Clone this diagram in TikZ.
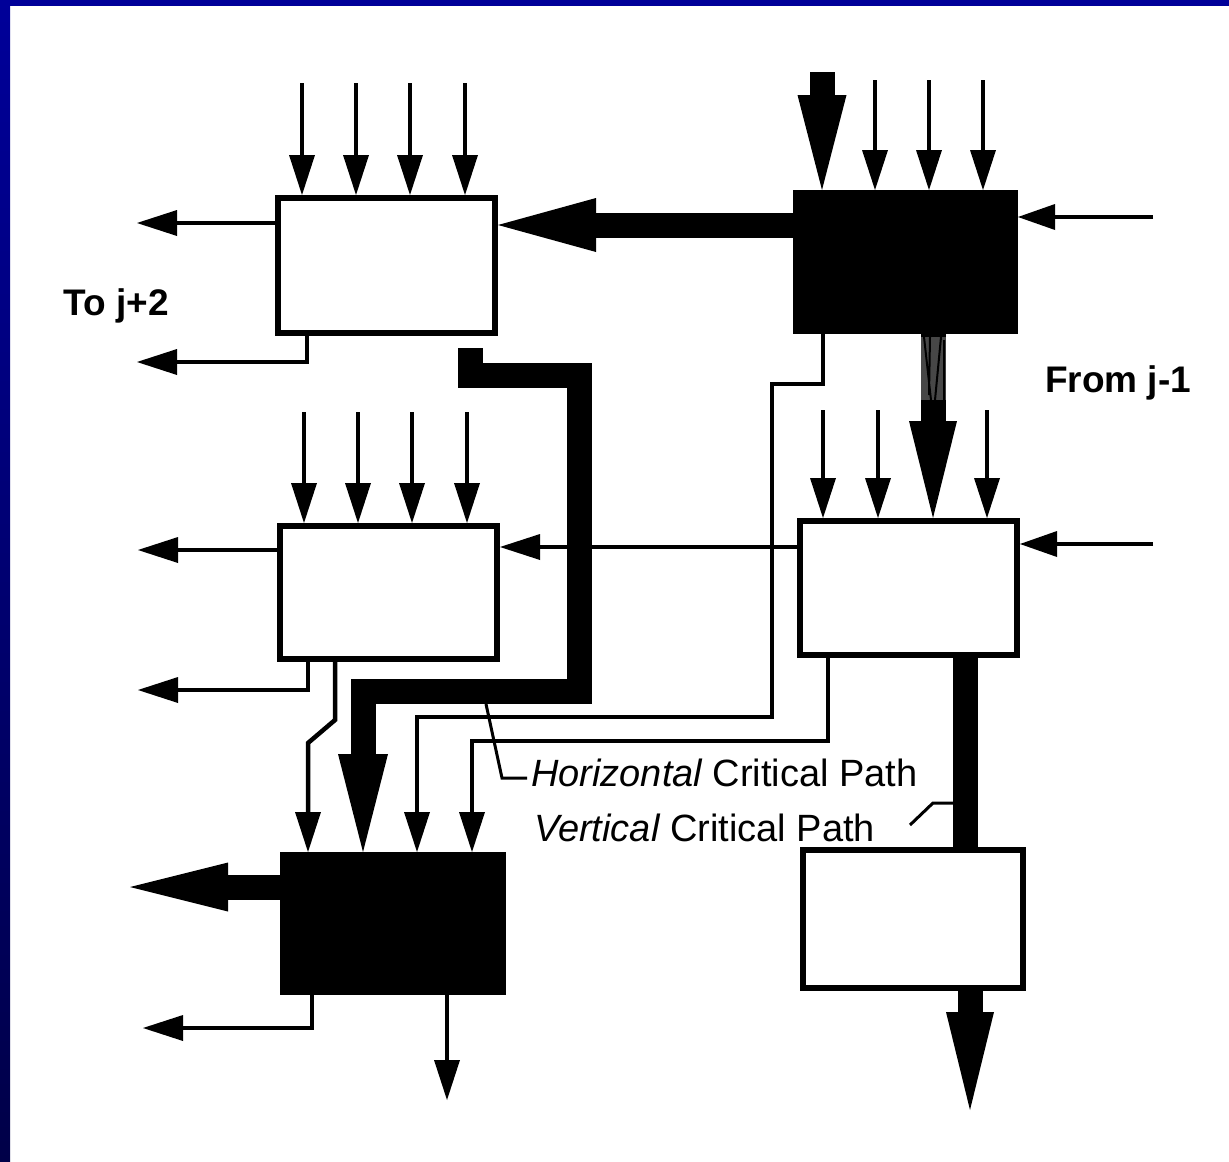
\documentclass[tikz,border=0pt]{standalone}
\usepackage{fontspec}
\setmainfont{Liberation Sans}
\usetikzlibrary{arrows.meta}
\definecolor{bordtop}{RGB}{0,0,153}
\definecolor{bordbot}{RGB}{0,0,72}
\begin{document}
\begin{tikzpicture}[x=1pt,y=-1pt,
  box/.style={draw=black,line width=6pt,inner sep=0pt,outer sep=3pt,fill=white},
  dark/.style={box,fill=black},
  tarr/.style={line width=4.5pt,-{Triangle[length=40pt,width=26pt,line width=0pt]}},
  bus/.style={line width=25pt},
  Tarr/.style={line width=25pt,-{Triangle[length=98pt,width=50pt,line width=0pt]}},
  lbl/.style={font=\bfseries\fontsize{37}{40}\selectfont},
  captxt/.style={anchor=base west,font=\fontsize{38}{42}\selectfont,inner sep=0pt}
]
\useasboundingbox (0,0) rectangle (1229,1162);
\fill[white] (0,0) rectangle (1229,1162);
\fill[bordtop] (0,0) rectangle (1229,6);
\shade[top color=bordtop,bottom color=bordbot] (0,0) rectangle (10,1162);

% blocks
\node[box,minimum width=217pt,minimum height=135pt] (A) at (386.5,265.5) {};
\node[dark,minimum width=219pt,minimum height=138pt] (B) at (905.5,262) {};
\node[box,minimum width=217pt,minimum height=133pt] (C) at (388.5,592.5) {};
\node[box,minimum width=217pt,minimum height=134pt] (D) at (908.5,588) {};
\node[dark,minimum width=220pt,minimum height=137pt] (E) at (393,923.5) {};
\node[box,minimum width=220pt,minimum height=138pt] (F) at (913,919) {};

% labels
\node[lbl] (toj) at (116,306) {To j+2};
\node[lbl] (fromj) at (1118,383) {From j-1};
\node[captxt] (hcp) at (531,786) {\itshape Horizontal\upshape{} Critical Path};
\node[captxt] (vcp) at (534,841) {\itshape Vertical\upshape{} Critical Path};

% inputs into A
\foreach \x [count=\i] in {302,356,410,465}{
  \coordinate (ai\i) at (\x,83);
  \draw[tarr] (ai\i) -- (\x,0 |- A.north);
}
% inputs into B
\coordinate (bt) at (822,72);
\draw[Tarr,-{Triangle[length=95pt,width=49pt,line width=0pt]}] (bt) -- (822,0 |- B.north);
\foreach \x [count=\i] in {875,929,983}{
  \coordinate (bi\i) at (\x,80);
  \draw[tarr] (bi\i) -- (\x,0 |- B.north);
}
\coordinate (br) at (1153,217);
\draw[tarr,-{Triangle[length=37pt,width=26pt,line width=0pt]}] (br) -- (0,217 -| B.east);

% B -> A thick
\draw[Tarr,-{Triangle[length=98pt,width=54pt,line width=0pt]}] (0,225 -| B.west) -- (0,225 -| A.east);

% A outputs
\coordinate (ao1) at (137,223);
\draw[tarr] (0,223 -| A.west) -- (ao1);
\coordinate (ao2) at (137,362);
\draw[tarr] (307,0 |- A.south) -- (307,362) -- (ao2);

% horizontal critical path (thick)
\coordinate (hs) at (470,348);
\draw[Tarr] (hs) -- (470,375) -- (579,375) -- (579,691) -- (363,691) -- (363,0 |- E.north);

% B bottom thin to E
\draw[tarr] (823,0 |- B.south) -- (823,384) -- (772,384) -- (772,717) -- (417,717) -- (417,0 |- E.north);

% B -> D thick
\draw[Tarr,-{Triangle[length=97pt,width=48pt,line width=0pt]}] (933,0 |- B.south) -- (933,0 |- D.north);
\fill[black!72] (920.5,337) rectangle (945.5,400);
\draw[black,line width=2pt] (924,337) -- (931,400) (941,337) -- (935,400) (930,337) -- (929,395) (944,340) -- (944,400);

% inputs into D
\foreach \x [count=\i] in {823,878,987}{
  \coordinate (di\i) at (\x,410);
  \draw[tarr] (di\i) -- (\x,0 |- D.north);
}
\coordinate (dr) at (1153,544);
\draw[tarr,-{Triangle[length=37pt,width=26pt,line width=0pt]}] (dr) -- (0,544 -| D.east);

% D -> C thin
\draw[tarr] (0,547 -| D.west) -- (0,547 -| C.east);

% inputs into C
\foreach \x [count=\i] in {304,358,412,467}{
  \coordinate (ci\i) at (\x,412);
  \draw[tarr] (ci\i) -- (\x,0 |- C.north);
}
% C outputs
\coordinate (co1) at (138,550);
\draw[tarr] (0,550 -| C.west) -- (co1);
\coordinate (co2) at (138,690);
\draw[tarr] (308,0 |- C.south) -- (308,690) -- (co2);
\draw[tarr] (335,0 |- C.south) -- (335,720) -- (308,743) -- (308,0 |- E.north);

% D bottom thin to E
\draw[tarr] (828,0 |- D.south) -- (828,741) -- (472,741) -- (472,0 |- E.north);

% D -> F vertical critical path
\draw[bus] (965,0 |- D.south) -- (965,0 |- F.north);

% F output
\coordinate (fo) at (970,1110);
\draw[Tarr,-{Triangle[length=98pt,width=48pt,line width=0pt]}] (970,0 |- F.south) -- (fo);

% E outputs
\coordinate (eo1) at (130,887);
\draw[Tarr,-{Triangle[length=98pt,width=49pt,line width=0pt]}] (0,887 -| E.west) -- (eo1);
\coordinate (eo2) at (143,1028);
\draw[tarr] (312,0 |- E.south) -- (312,1028) -- (eo2);
\coordinate (eo3) at (447,1100);
\draw[tarr] (447,0 |- E.south) -- (eo3);

% leaders
\draw[line width=3pt] (486,704) -- (502,778) -- (527,778);
\draw[line width=3pt] (910,825) -- (933,803) -- (953,803);
\end{tikzpicture}
\end{document}
